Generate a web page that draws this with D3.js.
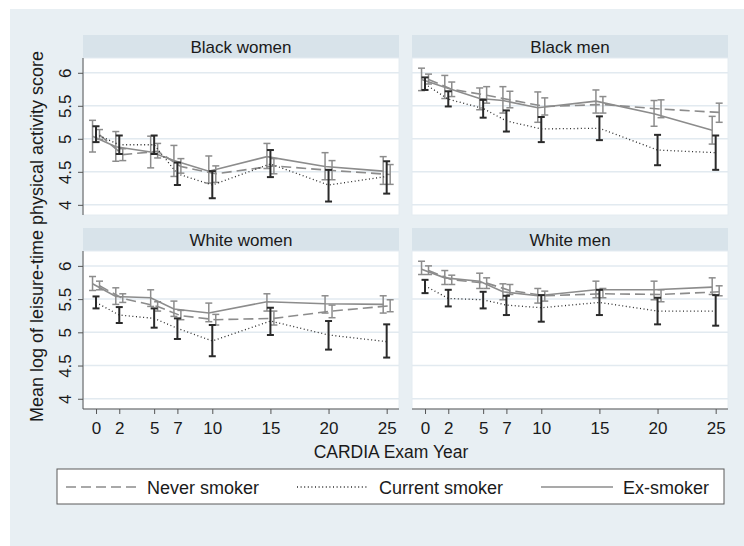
<!DOCTYPE html>
<html>
<head>
<meta charset="utf-8">
<script src="https://cdn.jsdelivr.net/npm/d3@7"></script>
<style>
html,body{margin:0;padding:0;background:#fff;}
text{font-family:"Liberation Sans",Arial,sans-serif;fill:#1a1a1a;}
</style>
</head>
<body>
<svg id="chart" width="744" height="546"></svg>
<script>
// ---- data ----
const years = [0, 2, 5, 7, 10, 15, 20, 25];
const yTickValues = [4, 4.5, 5, 5.5, 6];
const yTickLabels = ["4", "4.5", "5", "5.5", "6"];
const panelTitles = ["Black women", "Black men", "White women", "White men"];
const seriesNames = ["Never smoker", "Current smoker", "Ex-smoker"];

// each entry: [mean, lower CI, upper CI] per exam year
const blackWomenNever   = [[5.06,4.99,5.14],[4.76,4.67,4.85],[4.81,4.71,4.93],[4.58,4.48,4.70],[4.47,4.34,4.59],[4.59,4.47,4.70],[4.52,4.38,4.67],[4.46,4.31,4.61]];
const blackWomenCurrent = [[5.07,4.95,5.19],[4.91,4.77,5.05],[4.91,4.77,5.05],[4.47,4.30,4.64],[4.30,4.10,4.51],[4.62,4.42,4.83],[4.30,4.05,4.53],[4.43,4.17,4.66]];
const blackWomenEx      = [[5.04,4.80,5.28],[4.88,4.66,5.11],[4.80,4.56,5.04],[4.67,4.43,4.90],[4.51,4.33,4.74],[4.73,4.55,4.93],[4.58,4.38,4.79],[4.51,4.31,4.73]];

const blackMenNever     = [[5.90,5.83,5.98],[5.75,5.64,5.86],[5.66,5.54,5.79],[5.59,5.47,5.72],[5.49,5.36,5.62],[5.52,5.39,5.64],[5.45,5.32,5.59],[5.40,5.25,5.54]];
const blackMenCurrent   = [[5.83,5.74,5.93],[5.60,5.49,5.72],[5.46,5.32,5.59],[5.27,5.11,5.43],[5.15,4.95,5.33],[5.16,4.98,5.34],[4.83,4.60,5.06],[4.79,4.53,5.05]];
const blackMenEx        = [[5.90,5.73,6.07],[5.78,5.61,5.96],[5.61,5.44,5.77],[5.58,5.39,5.79],[5.47,5.25,5.71],[5.57,5.39,5.74],[5.38,5.19,5.58],[5.13,4.92,5.34]];

const whiteWomenNever   = [[5.70,5.64,5.77],[5.51,5.45,5.58],[5.39,5.32,5.46],[5.25,5.19,5.33],[5.19,5.11,5.27],[5.21,5.11,5.32],[5.32,5.22,5.41],[5.40,5.31,5.49]];
const whiteWomenCurrent = [[5.45,5.36,5.54],[5.26,5.14,5.38],[5.21,5.07,5.36],[5.06,4.90,5.21],[4.87,4.64,5.11],[5.17,4.96,5.37],[4.96,4.74,5.17],[4.86,4.62,5.12]];
const whiteWomenEx      = [[5.73,5.63,5.84],[5.54,5.42,5.67],[5.52,5.39,5.64],[5.35,5.24,5.47],[5.29,5.16,5.44],[5.46,5.32,5.58],[5.43,5.29,5.55],[5.42,5.29,5.55]];

const whiteMenNever     = [[5.93,5.87,6.00],[5.79,5.72,5.86],[5.74,5.66,5.82],[5.63,5.57,5.72],[5.55,5.47,5.62],[5.58,5.52,5.66],[5.57,5.46,5.64],[5.61,5.55,5.70]];
const whiteMenCurrent   = [[5.70,5.59,5.79],[5.51,5.39,5.64],[5.49,5.36,5.61],[5.41,5.26,5.55],[5.37,5.16,5.56],[5.45,5.26,5.64],[5.32,5.12,5.52],[5.32,5.10,5.56]];
const whiteMenEx        = [[5.95,5.87,6.07],[5.82,5.72,5.93],[5.77,5.66,5.89],[5.61,5.49,5.73],[5.55,5.44,5.66],[5.64,5.52,5.77],[5.64,5.49,5.77],[5.68,5.57,5.82]];

const panelData = [
  [blackWomenNever, blackWomenCurrent, blackWomenEx],
  [blackMenNever, blackMenCurrent, blackMenEx],
  [whiteWomenNever, whiteWomenCurrent, whiteWomenEx],
  [whiteMenNever, whiteMenCurrent, whiteMenEx]
];

// ---- styles ----
const seriesStyle = [
  {color:"#8c8c8c", width:1.6, dash:"10,5", barW:1.5, off:0.3},   // never
  {color:"#2a2a2a", width:1.3, dash:"1,2.6", barW:2.0, off:0},    // current
  {color:"#8c8c8c", width:1.6, dash:null, barW:1.5, off:-0.3}     // ex
];
const drawOrder = [0, 2, 1];

const svg = d3.select("#chart");
svg.append("rect").attr("x",0).attr("y",0).attr("width",744).attr("height",546).attr("fill","#ffffff");
svg.append("rect").attr("x",10).attr("y",9).attr("width",734).attr("height",537).attr("fill","#e8eff3");

const pw = 316, headerH = 23;
const colX = [83, 412];
const rowY = [58, 251];
const rowH = [157, 158];

panelTitles.forEach((title, i) => {
  const col = i % 2, row = Math.floor(i / 2);
  const px = colX[col], py = rowY[row], ph = rowH[row];
  const g = svg.append("g");

  g.append("rect").attr("x",px).attr("y",py-headerH).attr("width",pw).attr("height",headerH).attr("fill","#d8e3ea");
  g.append("text").attr("x",px+pw/2).attr("y",py-headerH/2).attr("dy","0.36em")
    .attr("text-anchor","middle").style("font-size","17px").text(title);

  g.append("rect").attr("x",px).attr("y",py).attr("width",pw).attr("height",ph)
    .attr("fill","#ffffff").attr("stroke","#e4ecf1").attr("stroke-width",1);

  const x = d3.scaleLinear().domain([-1.12, 26.06]).range([px, px+pw]);
  const y = d3.scaleLinear().domain([3.846, 6.224]).range([py+ph, py]);

  g.selectAll(".grid").data(yTickValues).enter().append("line")
    .attr("x1",px).attr("x2",px+pw).attr("y1",d=>y(d)).attr("y2",d=>y(d))
    .attr("stroke","#e2eaf0").attr("stroke-width",1.5);

  drawOrder.forEach(si => {
    const st = seriesStyle[si];
    const data = panelData[i][si].map((d, k) => ({yr: years[k] + st.off, m: d[0], lo: d[1], hi: d[2]}));
    const line = d3.line().x(d => x(d.yr)).y(d => y(d.m));
    g.append("path").datum(data).attr("d", line).attr("fill","none")
      .attr("stroke", st.color).attr("stroke-width", st.width)
      .attr("stroke-dasharray", st.dash);
    const eb = g.append("g");
    data.forEach(d => {
      const cx = x(d.yr);
      eb.append("line").attr("x1",cx).attr("x2",cx).attr("y1",y(d.lo)).attr("y2",y(d.hi))
        .attr("stroke",st.color).attr("stroke-width",st.barW);
      [d.lo, d.hi].forEach(v => {
        eb.append("line").attr("x1",cx-3.5).attr("x2",cx+3.5).attr("y1",y(v)).attr("y2",y(v))
          .attr("stroke",st.color).attr("stroke-width",st.barW);
      });
    });
  });

  if (col === 0) {
    const ax = g.append("g").attr("transform",`translate(${px},0)`)
      .call(d3.axisLeft(y).tickValues(yTickValues).tickSize(5).tickSizeOuter(0)
        .tickFormat((d, k) => yTickLabels[k]));
    ax.select(".domain").attr("stroke","#555").attr("d", `M0,${py}V${py+ph}`);
    ax.selectAll(".tick line").attr("stroke","#555");
    ax.selectAll(".tick text").attr("x",0).attr("y",0).attr("dy",0)
      .attr("text-anchor","middle").attr("transform","translate(-12,0) rotate(-90)")
      .style("font-size","17px").attr("fill","#1a1a1a");
  }
  if (row === 1) {
    const ax = g.append("g").attr("transform",`translate(0,${py+ph})`)
      .call(d3.axisBottom(x).tickValues(years).tickSize(5).tickSizeOuter(0));
    ax.select(".domain").attr("stroke","#555").attr("d", `M${px},0H${px+pw}`);
    ax.selectAll(".tick line").attr("stroke","#555");
    ax.selectAll(".tick text").attr("y",13).style("font-size","17px").attr("fill","#1a1a1a");
  }
});

// axis titles
svg.append("text").attr("transform","translate(43,236.5) rotate(-90)")
  .attr("text-anchor","middle").style("font-size","18px")
  .text("Mean log of leisure-time physical activity score");
svg.append("text").attr("x",391).attr("y",458).attr("text-anchor","middle")
  .style("font-size","17.5px").text("CARDIA Exam Year");

// legend
const leg = svg.append("g");
leg.append("rect").attr("x",57).attr("y",469).attr("width",667).attr("height",35)
  .attr("fill","#ffffff").attr("stroke","#5a5a5a").attr("stroke-width",1);
const legendItems = [
  {si:0, x1:66, x2:136, tx:147},
  {si:1, x1:297, x2:368, tx:379},
  {si:2, x1:541, x2:613, tx:623}
];
legendItems.forEach(it => {
  const st = seriesStyle[it.si];
  leg.append("line").attr("x1",it.x1).attr("x2",it.x2).attr("y1",487).attr("y2",487)
    .attr("stroke",st.color).attr("stroke-width",st.width).attr("stroke-dasharray",st.dash);
  leg.append("text").attr("x",it.tx).attr("y",494).style("font-size","18px").text(seriesNames[it.si]);
});
</script>
</body>
</html>
